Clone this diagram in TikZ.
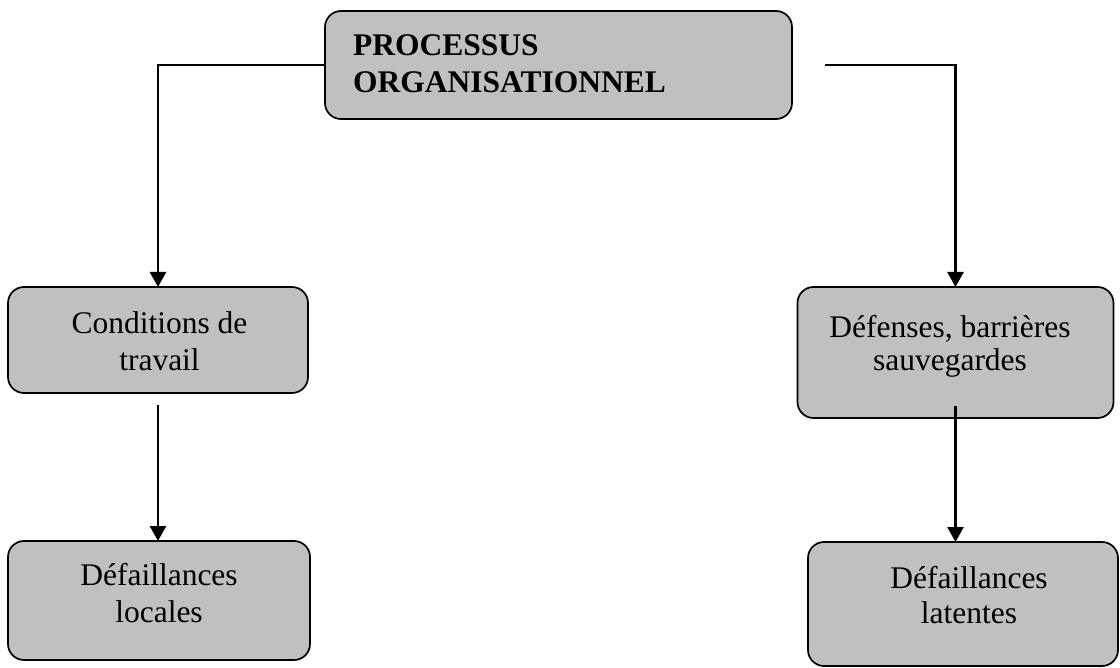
\documentclass[tikz,border=0pt]{standalone}
\usepackage{fontspec}
\setmainfont{Liberation Serif}
\usetikzlibrary{arrows.meta}
\definecolor{boxgray}{HTML}{C0C0C0}
\begin{document}
\begin{tikzpicture}[x=1pt,y=-1pt,
  box/.style={draw=black, line width=1.7pt, fill=boxgray, rounded corners=16pt,
    inner sep=0pt, outer sep=0pt},
  lbl/.style={inner sep=0pt, align=center, font=\fontsize{31.5}{37}\selectfont},
  conn/.style={line width=2.5pt, -{Triangle[length=15pt,width=16pt]}}]
\useasboundingbox (0,0) rectangle (1120,668);

% boxes
\node[box, minimum width=467pt, minimum height=108pt] (top) at (558.5,65) {};
\node[box, minimum width=300pt, minimum height=106pt] (cond) at (158,340) {};
\node[box, minimum width=316pt, minimum height=131pt] (def) at (955.5,352.5) {};
\node[box, minimum width=302pt, minimum height=119pt] (loc) at (159,600.5) {};
\node[box, minimum width=310pt, minimum height=124pt] (lat) at (963,604) {};

% texts
\node[inner sep=0pt, align=left, anchor=west, font=\fontsize{31.5}{37}\selectfont\bfseries]
  (topt) at (353,64) {PROCESSUS\\ORGANISATIONNEL};
\node[lbl] (condt) at (159.5,341) {Conditions de\\travail};
\node[lbl, font=\fontsize{31.5}{33}\selectfont] (deft) at (950,346) {Défenses, barrières\\sauvegardes};
\node[lbl] (loct) at (159,593) {Défaillances\\locales};
\node[lbl, font=\fontsize{31.5}{35}\selectfont] (latt) at (969,595) {Défaillances\\latentes};

% connectors
\coordinate (rstart) at (825,65);
\draw[conn] (top.west) -| (cond.north);
\draw[conn] (rstart) -| (def.north);
\draw[conn] ([yshift=-12pt]cond.south) -- (cond.south |- loc.north);
\draw[conn] ([yshift=12pt]def.south) -- (def.south |- lat.north);
\end{tikzpicture}
\end{document}
